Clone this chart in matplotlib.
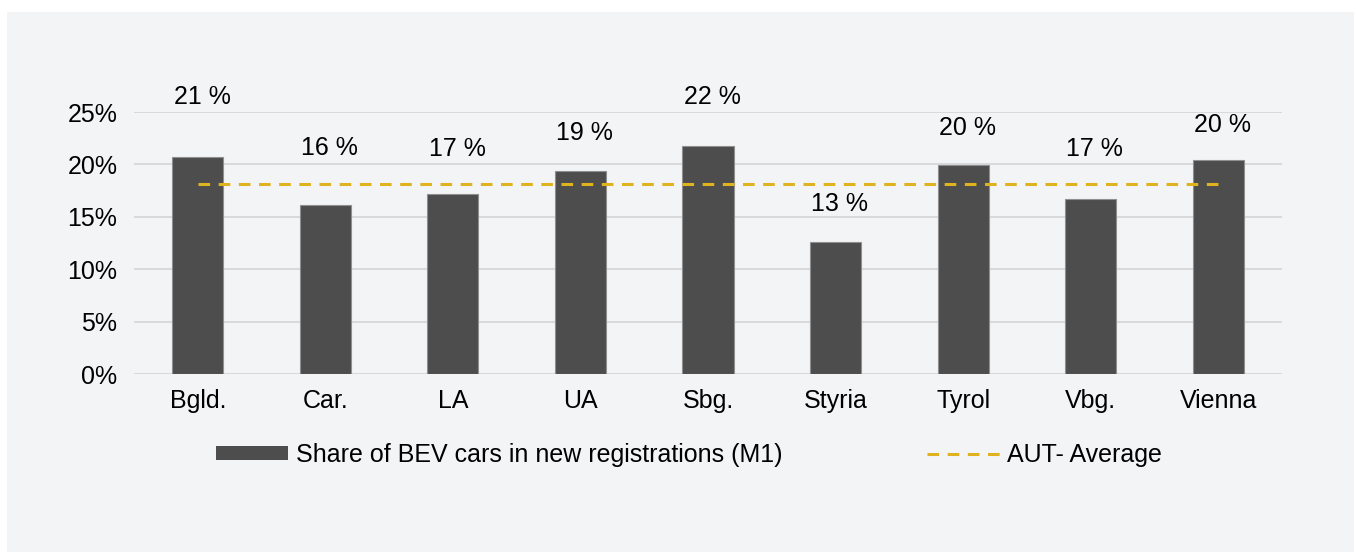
import numpy as np
import matplotlib.pyplot as plt
from matplotlib.patches import Rectangle, Patch
from matplotlib.lines import Line2D
import matplotlib.ticker as mticker

#---------------------------------------------------------------------------------------------------
# Data
#---------------------------------------------------------------------------------------------------

regions = ['Bgld.', 'Car.', 'LA', 'UA', 'Sbg.', 'Styria', 'Tyrol', 'Vbg.', 'Vienna']
bev_share = [0.207, 0.161, 0.172, 0.194, 0.218, 0.126, 0.199, 0.167, 0.204]
value_labels = ['21 %', '16 %', '17 %', '19 %', '22 %', '13 %', '20 %', '17 %', '20 %']
aut_average = 0.181

# label offsets above bar tops (points), as placed in the original
label_offset = [43, 41, 32, 27, 35, 27, 27, 36, 25]

#---------------------------------------------------------------------------------------------------
# Plot
#---------------------------------------------------------------------------------------------------

plt.rcParams['font.family'] = ['Liberation Sans', 'DejaVu Sans']
fontsize = 18
bg = '#f3f4f6'
bar_color = '#4d4d4d'
avg_color = '#dfb31f'

fig = plt.figure(figsize=(13.56, 5.52), dpi=100, facecolor='white')
fig.patches.append(Rectangle((7 / 1356, 0), 1 - 9 / 1356, 1 - 12 / 552, transform=fig.transFigure,
                             facecolor=bg, edgecolor='none', zorder=-10))

ax = fig.add_axes([134 / 1356, 1 - 374 / 552, (1282 - 134) / 1356, (374 - 112) / 552])
ax.set_facecolor(bg)
ax.patch.set_alpha(0)

x = np.arange(len(regions))
ax.bar(x, bev_share, width=0.4, color=bar_color, edgecolor='#8f8f8f', linewidth=0.8, zorder=3)
ax.plot([x[0], x[-1]], [aut_average, aut_average], color=avg_color, lw=2.2, dashes=(3.8, 2.8), zorder=4)

for xi, yi, lab, off in zip(x, bev_share, value_labels, label_offset):
    ax.annotate(lab, (xi, yi), xytext=(3, off), textcoords='offset points', ha='center', va='center',
                fontsize=fontsize, color='black', annotation_clip=False)

# Axes formatting
ax.set_xlim(-0.5, len(regions) - 0.5)
ax.set_ylim(0, 0.25)
ax.set_yticks([0, 0.05, 0.10, 0.15, 0.20, 0.25])
ax.yaxis.set_major_formatter(mticker.FuncFormatter(lambda v, pos: f"{v*100:.0f}%"))
ax.set_xticks(x)
ax.set_xticklabels(regions)
ax.tick_params(axis='y', length=0, pad=12, labelsize=fontsize)
ax.tick_params(axis='x', length=0, pad=10.5, labelsize=fontsize)
ax.grid(axis='y', color='#d7d7d7', lw=1.3, zorder=0)
for s in ax.spines.values():
    s.set_visible(False)

# Legend
handles = [Patch(facecolor=bar_color, edgecolor='none', label='Share of BEV cars in new registrations (M1)'),
           Line2D([], [], color=avg_color, lw=2.2, dashes=(3.8, 2.8), label='AUT- Average')]
fig.legend(handles=handles, loc='center', bbox_to_anchor=(0.508, 1 - 455 / 552), ncol=2,
           frameon=False, fontsize=fontsize, handlelength=2.9, handleheight=0.5,
           handletextpad=0.3, columnspacing=5.8)

plt.savefig('out.png', dpi=100, facecolor='white')
plt.close()
